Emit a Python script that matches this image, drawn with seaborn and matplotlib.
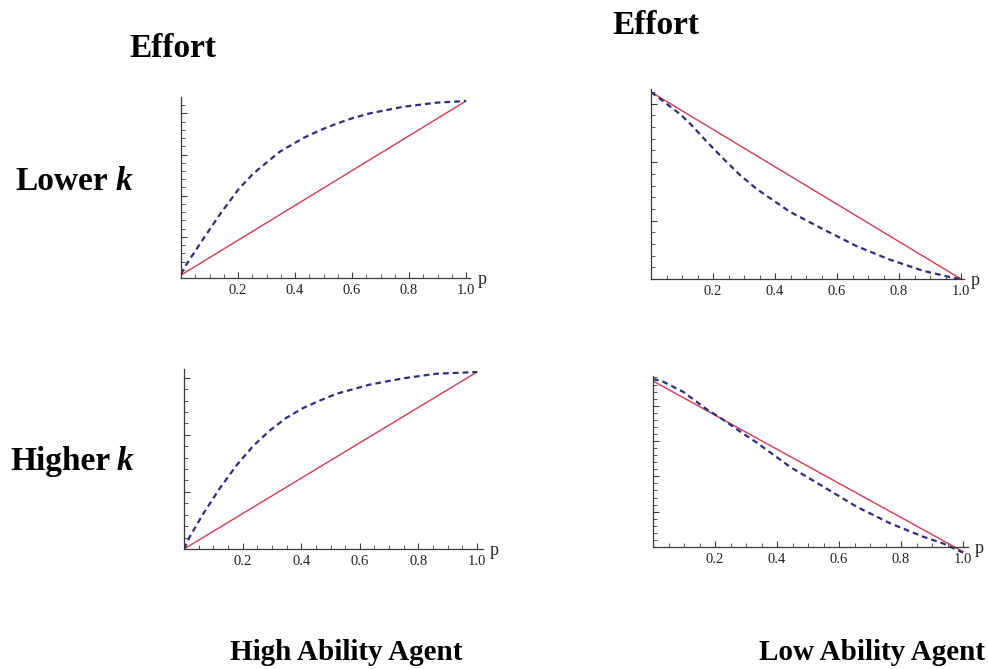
import matplotlib
matplotlib.use("Agg")
import matplotlib.pyplot as plt
from matplotlib.ticker import FixedLocator, MultipleLocator
import numpy as np
import seaborn as sns

# ---- data: effort as a function of p -------------------------------------
tick_values = [0.2, 0.4, 0.6, 0.8, 1.0]
tick_labels = ["0.2", "0.4", "0.6", "0.8", "1.0"]

# High ability agent, lower k
hl_p_dash = [0, 0.014, 0.078, 0.137, 0.201, 0.254, 0.347, 0.429, 0.488,
             0.546, 0.605, 0.663, 0.78, 0.897, 1.0]
hl_e_dash = [0.009, 0.028, 0.095, 0.155, 0.215, 0.254, 0.307, 0.340, 0.359,
             0.375, 0.389, 0.400, 0.416, 0.426, 0.430]
hl_p_line = [0, 1.0]
hl_e_line = [0.007, 0.430]

# Low ability agent, lower k
ll_p_dash = [0, 0.04, 0.094, 0.126, 0.18, 0.233, 0.287, 0.341, 0.448,
             0.556, 0.664, 0.771, 0.878, 0.975, 1.0]
ll_e_dash = [0.320, 0.304, 0.282, 0.266, 0.235, 0.206, 0.178, 0.154, 0.115,
             0.085, 0.056, 0.033, 0.014, 0.002, 0.0]
ll_p_line = [0, 1.0]
ll_e_line = [0.320, 0.0]

# High ability agent, higher k
hh_p_dash = [0, 0.02, 0.066, 0.123, 0.18, 0.237, 0.294, 0.35, 0.407,
             0.464, 0.521, 0.635, 0.749, 0.862, 1.0]
hh_e_dash = [0.0, 0.022, 0.062, 0.107, 0.147, 0.181, 0.208, 0.230, 0.247,
             0.260, 0.272, 0.288, 0.299, 0.307, 0.310]
hh_p_line = [0, 1.0]
hh_e_line = [0.0, 0.310]

# Low ability agent, higher k
lh_p_dash = [0, 0.033, 0.098, 0.173, 0.227, 0.281, 0.334, 0.442, 0.549,
             0.657, 0.765, 0.872, 0.936, 1.0]
lh_e_dash = [0.476, 0.468, 0.439, 0.390, 0.360, 0.327, 0.296, 0.227, 0.171,
             0.114, 0.067, 0.029, 0.010, -0.016]
lh_p_line = [0, 1.0]
lh_e_line = [0.470, -0.013]

# ---- styling ---------------------------------------------------------------
sns.set_theme(style="white")
plt.rcParams["font.family"] = ["Liberation Serif", "DejaVu Serif"]

W, H = 988, 669
RED = "#d23a52"
NAVY = "#2e2e7e"
AXIS = "#3a3a3a"

fig = plt.figure(figsize=(W / 100, H / 100), dpi=100)
fig.patch.set_facecolor("white")


def frame(ax, x_at0, x_at1, y_at0, y_attop, ytop, xlim, ylim):
    """Position an axes so that data 0/1 and 0/ytop land on given pixels."""
    sx = x_at1 - x_at0
    sy = (y_at0 - y_attop) / ytop
    left = x_at0 + xlim[0] * sx
    right = x_at0 + xlim[1] * sx
    top = y_at0 - ylim[1] * sy
    bottom = y_at0 - ylim[0] * sy
    ax.set_position([left / W, 1 - bottom / H, (right - left) / W, (bottom - top) / H])
    ax.set_xlim(*xlim)
    ax.set_ylim(*ylim)


def panel(ax, p_dash, e_dash, p_line, e_line, ylim):
    sns.lineplot(x=p_line, y=e_line, ax=ax, color=RED, linewidth=1.0,
                 estimator=None, sort=False)
    sns.lineplot(x=p_dash, y=e_dash, ax=ax, color=NAVY, linewidth=1.6,
                 linestyle=(0, (2.6, 1.8)), estimator=None, sort=False)
    ax.set_facecolor("none")
    for side in ("top", "right"):
        ax.spines[side].set_visible(False)
    ax.spines["bottom"].set_position(("data", 0))
    ax.spines["left"].set_position(("data", 0))
    ax.spines["left"].set_bounds(0, ylim[1])
    for side in ("bottom", "left"):
        ax.spines[side].set_color(AXIS)
        ax.spines[side].set_linewidth(0.9)
    ax.xaxis.set_major_locator(FixedLocator(tick_values))
    ax.set_xticklabels(tick_labels)
    ax.xaxis.set_minor_locator(MultipleLocator(0.05))
    # unlabelled effort ticks, only along the drawn part of the axis
    ax.yaxis.set_major_locator(FixedLocator(np.arange(0.1, ylim[1], 0.1)))
    ax.yaxis.set_minor_locator(FixedLocator(np.arange(0.02, ylim[1], 0.02)))
    ax.tick_params(axis="both", which="both", bottom=True, left=True,
                   top=False, right=False)
    ax.tick_params(axis="both", which="major", direction="in", length=4.5,
                   width=0.8, color=AXIS)
    ax.tick_params(axis="both", which="minor", direction="in", length=2.6,
                   width=0.6, color=AXIS)
    ax.tick_params(axis="x", labelsize=10.5, pad=4, labelcolor="#222222")
    ax.tick_params(axis="y", labelleft=False)
    ax.set_xlabel("")
    ax.set_ylabel("")
    ax.annotate("p", xy=(ax.get_xlim()[1], 0), xycoords="data",
                xytext=(5, -1), textcoords="offset points",
                ha="left", va="center", fontsize=13, color="#222222")


ax_tl = fig.add_axes([0, 0, 1, 1])
ax_tr = fig.add_axes([0, 0, 1, 1])
ax_bl = fig.add_axes([0, 0, 1, 1])
ax_br = fig.add_axes([0, 0, 1, 1])

frame(ax_tl, 181, 466, 278, 101, 0.43, (0, 1.015), (0, 0.44))
panel(ax_tl, hl_p_dash, hl_e_dash, hl_p_line, hl_e_line, (0, 0.44))

frame(ax_tr, 651, 961, 279, 92, 0.32, (0, 1.01), (0, 0.325))
panel(ax_tr, ll_p_dash, ll_e_dash, ll_p_line, ll_e_line, (0, 0.325))

frame(ax_bl, 184, 477, 549, 372, 0.31, (0, 1.02), (0, 0.315))
panel(ax_bl, hh_p_dash, hh_e_dash, hh_p_line, hh_e_line, (0, 0.315))

frame(ax_br, 653, 963, 547, 381, 0.47, (0, 1.016), (-0.02, 0.485))
panel(ax_br, lh_p_dash, lh_e_dash, lh_p_line, lh_e_line, (-0.02, 0.485))


def label(x, y, s, size=24, style="normal", ha="left"):
    fig.text(x / W, 1 - y / H, s, fontsize=size, fontweight="bold",
             fontstyle=style, ha=ha, va="baseline", color="black")


label(173, 57, "Effort", ha="center")
label(656, 34, "Effort", ha="center")
label(15, 190, "Lower")
label(116, 190, "k", style="italic")
label(10, 470, "Higher")
label(117, 470, "k", style="italic")
label(346, 660, "High Ability Agent", size=21, ha="center")
label(872, 660, "Low Ability Agent", size=21, ha="center")

fig.savefig("out.png", dpi=100, facecolor="white")
